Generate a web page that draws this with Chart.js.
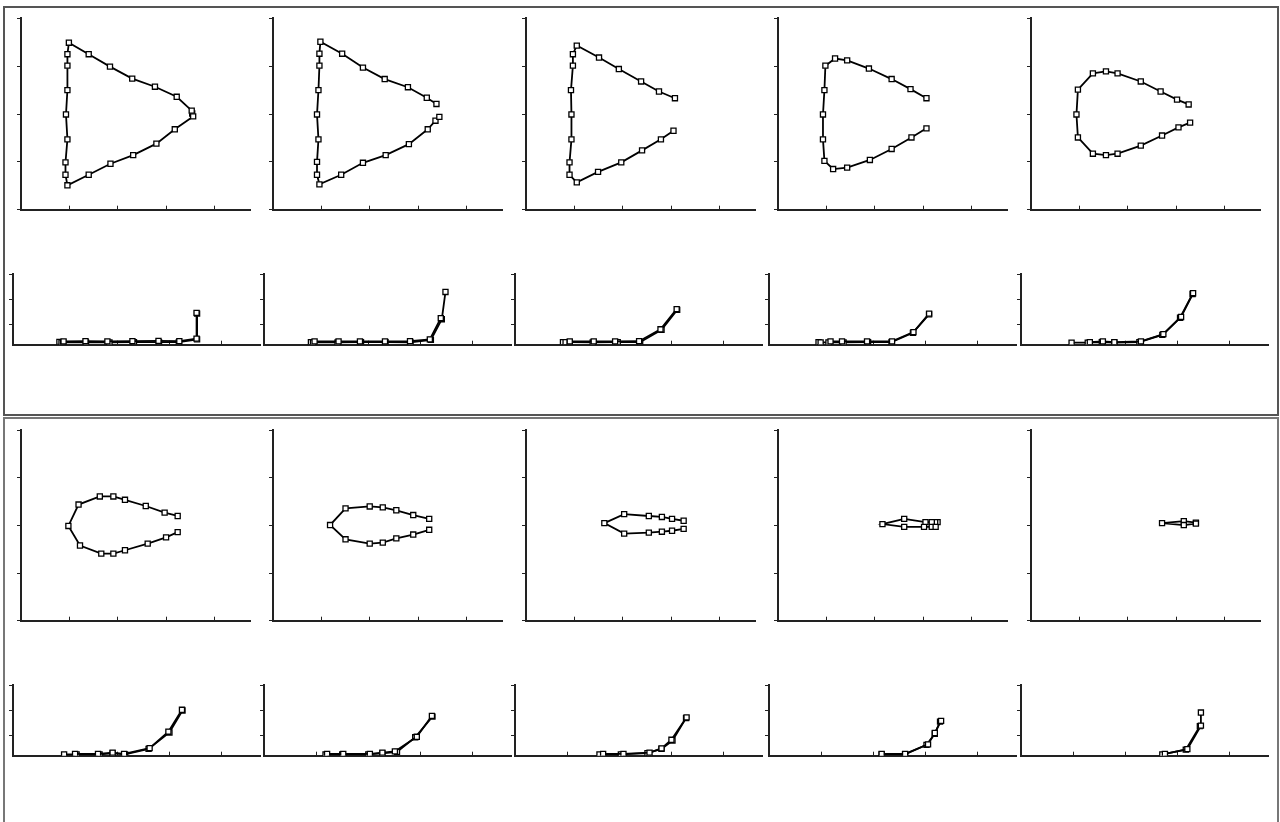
<!DOCTYPE html>
<html>
<head>
<meta charset="utf-8">
<script src="https://cdn.jsdelivr.net/npm/chart.js@4.4.1/dist/chart.umd.min.js"></script>
<style>
  body { margin: 0; background: #fff; width: 1280px; height: 822px; overflow: hidden; position: relative; }
  .panel { position: absolute; left: 3px; width: 1276px; border: 2px solid #555; box-sizing: border-box; }
  canvas { position: absolute; }
</style>
</head>
<body>
<div class="panel" style="top:6px;height:410px"></div>
<div class="panel" style="top:417px;height:420px;border-color:#777"></div>
<script>
// axis ranges and tick steps
const xRange = [0, 4.75];
const loopRange = [-2, 2];
const curveRange = [0.21, 3];
const tickStep = 1;

// loops (upper plots): top branch right->left, left side, bottom branch left->right
const loop1 = [[3.54,0.01],[3.53,0.07],[3.22,0.36],[2.77,0.57],[2.30,0.74],[1.84,0.99],[1.40,1.25],[0.99,1.49],
  [0.96,1.25],[0.96,1.01],[0.96,0.50],[0.93,-0.01],[0.96,-0.53],[0.92,-1.01],[0.92,-1.27],[0.96,-1.49],
  [1.40,-1.27],[1.85,-1.04],[2.32,-0.86],[2.80,-0.62],[3.18,-0.32],[3.56,-0.05]];
const loop2 = [[3.38,0.21],[3.18,0.34],[2.79,0.56],[2.31,0.73],[1.86,0.97],[1.43,1.26],[0.98,1.51],
  [0.96,1.26],[0.96,1.01],[0.94,0.50],[0.91,-0.01],[0.94,-0.53],[0.91,-1.00],[0.91,-1.27],[0.96,-1.47],
  [1.41,-1.27],[1.86,-1.02],[2.33,-0.86],[2.81,-0.63],[3.20,-0.32],[3.36,-0.14],[3.44,-0.06]];
const loop3 = [[3.08,0.33],[2.75,0.47],[2.38,0.68],[1.92,0.94],[1.51,1.18],[1.05,1.43],
  [0.97,1.25],[0.97,1.01],[0.93,0.50],[0.94,-0.01],[0.94,-0.53],[0.90,-1.01],[0.90,-1.27],[1.05,-1.43],
  [1.49,-1.21],[1.97,-1.01],[2.40,-0.76],[2.79,-0.53],[3.05,-0.35]];
const loop4 = [[3.07,0.33],[2.74,0.52],[2.35,0.73],[1.88,0.95],[1.43,1.12],[1.18,1.16],[0.98,1.01],
  [0.96,0.50],[0.93,-0.01],[0.93,-0.53],[0.96,-0.98],[1.14,-1.15],[1.43,-1.12],[1.90,-0.96],
  [2.35,-0.73],[2.76,-0.49],[3.07,-0.30]];
const loop5 = [[3.26,0.20],[3.02,0.30],[2.68,0.47],[2.27,0.68],[1.79,0.85],[1.55,0.89],[1.28,0.85],
  [0.97,0.51],[0.94,-0.01],[0.97,-0.49],[1.28,-0.83],[1.55,-0.86],[1.79,-0.83],[2.27,-0.66],
  [2.71,-0.45],[3.05,-0.28],[3.29,-0.18]];
const loop6 = [[3.24,0.20],[2.97,0.27],[2.58,0.41],[2.15,0.54],[1.91,0.61],[1.63,0.61],[1.19,0.44],
  [0.98,-0.01],[1.22,-0.42],[1.66,-0.59],[1.91,-0.59],[2.15,-0.52],[2.62,-0.38],[3.00,-0.25],[3.24,-0.14]];
const loop7 = [[3.23,0.14],[2.90,0.22],[2.55,0.32],[2.27,0.38],[2.00,0.40],[1.50,0.36],[1.18,0.01],
  [1.50,-0.29],[2.00,-0.38],[2.27,-0.36],[2.55,-0.27],[2.90,-0.19],[3.23,-0.09]];
const loop8 = [[3.26,0.10],[3.02,0.14],[2.81,0.18],[2.54,0.20],[2.03,0.24],[1.62,0.05],
  [2.03,-0.17],[2.54,-0.15],[2.81,-0.13],[3.02,-0.11],[3.26,-0.07]];
const loop9 = [[3.30,0.07],[3.25,0.07],[3.18,0.07],[3.05,0.07],[2.61,0.14],[2.16,0.03],
  [2.61,-0.03],[3.02,-0.03],[3.18,-0.03],[3.26,-0.03]];
const loop10 = [[3.41,0.06],[3.16,0.09],[2.71,0.05],[3.16,0.01],[3.41,0.04]];

// curves (lower plots), two nearly overlapping series each
const curve1a = [[0.97,0.34],[1.39,0.35],[1.81,0.34],[2.29,0.35],[2.79,0.36],[3.19,0.35],[3.52,0.45],[3.52,1.47]];
const curve1b = [[0.89,0.32],[0.93,0.30],[0.96,0.31],[1.40,0.30],[1.85,0.30],[2.32,0.31],[2.80,0.31],[3.18,0.31],[3.53,0.42],[3.53,1.44]];
const curve2a = [[0.97,0.34],[1.43,0.34],[1.84,0.34],[2.32,0.34],[2.80,0.35],[3.18,0.42],[3.39,1.26]];
const curve2b = [[0.90,0.31],[0.94,0.30],[1.41,0.30],[1.86,0.31],[2.33,0.31],[2.81,0.30],[3.20,0.40],[3.41,1.22],[3.48,2.30]];
const curve3a = [[1.05,0.34],[1.51,0.34],[1.92,0.34],[2.38,0.35],[2.79,0.82],[3.10,1.62]];
const curve3b = [[0.92,0.31],[0.97,0.31],[1.05,0.31],[1.49,0.30],[1.97,0.31],[2.40,0.31],[2.81,0.80],[3.11,1.59]];
const curve4a = [[1.18,0.34],[1.40,0.34],[1.88,0.34],[2.36,0.34],[2.77,0.71],[3.07,1.44]];
const curve4b = [[0.95,0.31],[0.99,0.30],[1.14,0.30],[1.43,0.30],[1.90,0.31],[2.35,0.31],[2.76,0.68],[3.07,1.41]];
const curve5a = [[1.32,0.31],[1.57,0.34],[1.79,0.31],[2.30,0.34],[2.73,0.63],[3.07,1.31],[3.30,2.25]];
const curve5b = [[0.97,0.29],[1.28,0.29],[1.55,0.31],[1.79,0.29],[2.27,0.31],[2.71,0.60],[3.05,1.28],[3.29,2.22]];
const curve6a = [[1.19,0.28],[1.63,0.28],[1.91,0.33],[2.13,0.28],[2.62,0.51],[2.98,1.16],[3.24,2.03]];
const curve6b = [[0.98,0.26],[1.22,0.26],[1.66,0.26],[1.91,0.30],[2.15,0.26],[2.60,0.48],[3.00,1.13],[3.25,2.00]];
const curve7a = [[1.21,0.28],[1.52,0.28],[2.03,0.28],[2.27,0.33],[2.51,0.38],[2.93,0.96],[3.22,1.79]];
const curve7b = [[1.18,0.26],[1.50,0.26],[2.00,0.26],[2.27,0.30],[2.55,0.36],[2.90,0.94],[3.23,1.76]];
const curve8a = [[1.69,0.28],[2.08,0.28],[2.58,0.33],[2.81,0.50],[3.00,0.84],[3.29,1.73]];
const curve8b = [[1.62,0.26],[2.03,0.26],[2.54,0.31],[2.81,0.48],[3.02,0.81],[3.28,1.70]];
const curve9a = [[2.16,0.28],[2.61,0.28],[3.05,0.66],[3.18,1.11],[3.30,1.59]];
const curve9b = [[2.16,0.26],[2.61,0.26],[3.02,0.64],[3.18,1.08],[3.28,1.56]];
const curve10a = [[2.76,0.28],[3.19,0.47],[3.45,1.40],[3.45,1.92]];
const curve10b = [[2.71,0.26],[3.16,0.45],[3.43,1.38]];

const loops = [loop1, loop2, loop3, loop4, loop5, loop6, loop7, loop8, loop9, loop10];
const curves = [[curve1a, curve1b], [curve2a, curve2b], [curve3a, curve3b], [curve4a, curve4b], [curve5a, curve5b],
  [curve6a, curve6b], [curve7a, curve7b], [curve8a, curve8b], [curve9a, curve9b], [curve10a, curve10b]];

// page layout (chart-area positions in px)
const loopLeft = [21, 273, 526, 778, 1031];
const curveLeft = [13, 264, 515, 769, 1021];
const loopTop = [17, 429], loopH = [194, 193], loopW = 231;
const curveTop = [273, 684], curveH = 73, curveW = 249;

function plot(left, top, w, h, yr, sets) {
    const cv = document.createElement('canvas');
    cv.width = w + 10; cv.height = h + 8;
    cv.style.left = (left - 6) + 'px'; cv.style.top = (top - 4) + 'px';
    document.body.appendChild(cv);
    new Chart(cv, {
        type: 'scatter',
        data: { datasets: sets.map(s => ({
            data: s.map(p => ({ x: p[0], y: p[1] })), showLine: true,
            borderColor: '#000', borderWidth: 1.8,
            pointStyle: 'rect', pointRadius: 3.6, pointBorderWidth: 1.3,
            pointBackgroundColor: '#fff', pointBorderColor: '#000'
        })) },
        options: {
            responsive: false, animation: false,
            layout: { padding: { left: 2, right: 4, top: 4, bottom: 4 } },
            plugins: { legend: { display: false }, tooltip: { enabled: false } },
            scales: {
                x: { type: 'linear', min: xRange[0], max: xRange[1],
                     ticks: { display: false, stepSize: tickStep, includeBounds: false },
                     grid: { drawOnChartArea: false, tickLength: -4, color: '#222', lineWidth: 1 },
                     border: { color: '#222', width: 2 },
                     afterFit: s => { s.height = 0; } },
                y: { type: 'linear', min: yr[0], max: yr[1],
                     ticks: { display: false, stepSize: tickStep, includeBounds: false },
                     grid: { drawOnChartArea: false, tickLength: 4, color: '#222', lineWidth: 1 },
                     border: { color: '#222', width: 2 } }
            }
        }
    });
}

for (let p = 0; p < 2; p++) {
    for (let i = 0; i < 5; i++) {
        const k = p * 5 + i;
        plot(loopLeft[i], loopTop[p], loopW, loopH[p], loopRange, [loops[k]]);
        plot(curveLeft[i], curveTop[p], curveW, curveH, curveRange, curves[k]);
    }
}
</script>
</body>
</html>
